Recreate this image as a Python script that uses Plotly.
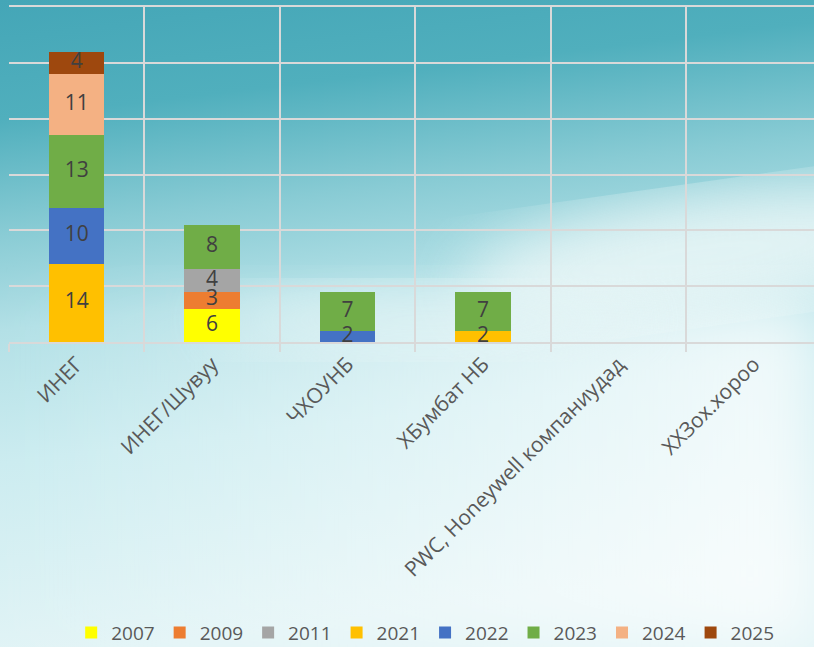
import base64
import plotly.graph_objects as go

categories = ["ИНЕГ", "ИНЕГ/Шувуу", "ЧХОУНБ", "ХБумбат НБ",
              "PWC, Honeywell компаниудад", "ХХЗох.хороо"]
years = ["2007", "2009", "2011", "2021", "2022", "2023", "2024", "2025"]
colors = ["#FFFF00", "#ED7D31", "#A5A5A5", "#FFC000",
          "#4472C4", "#70AD47", "#F4B183", "#9E480E"]

v2007 = [None, 6, None, None, None, None]
v2009 = [None, 3, None, None, None, None]
v2011 = [None, 4, None, None, None, None]
v2021 = [14, None, None, 2, None, None]
v2022 = [10, None, 2, None, None, None]
v2023 = [13, 8, 7, 7, None, None]
v2024 = [11, None, None, None, None, None]
v2025 = [4, None, None, None, None, None]
values = [v2007, v2009, v2011, v2021, v2022, v2023, v2024, v2025]

W, H = 814, 647
ml, mt, mb = 9, 7, 305

# фон: небо с облаками (svg градиент вместо картинки)
svg = f'''<svg xmlns="http://www.w3.org/2000/svg" width="{W}" height="{H}" viewBox="0 0 {W} {H}">
<defs>
<linearGradient id="g" x1="0" y1="0" x2="0.15" y2="1">
<stop offset="0" stop-color="#44a6b7"/>
<stop offset="0.18" stop-color="#50afbd"/>
<stop offset="0.35" stop-color="#88cbd4"/>
<stop offset="0.5" stop-color="#b2e0e6"/>
<stop offset="0.7" stop-color="#cbecf0"/>
<stop offset="1" stop-color="#e2f4f6"/>
</linearGradient>
<linearGradient id="w" x1="0" y1="0" x2="1" y2="0">
<stop offset="0" stop-color="#ffffff" stop-opacity="0"/>
<stop offset="1" stop-color="#ffffff" stop-opacity="0.75"/>
</linearGradient>
<filter id="b"><feGaussianBlur stdDeviation="30"/></filter>
</defs>
<rect width="{W}" height="{H}" fill="url(#g)"/>
<rect y="300" width="{W}" height="{H - 300}" fill="url(#w)" filter="url(#b)"/>
<ellipse cx="700" cy="255" rx="240" ry="60" fill="#eef8f8" opacity="0.8" filter="url(#b)" transform="rotate(-8 700 255)"/>
<ellipse cx="430" cy="320" rx="220" ry="35" fill="#e6f5f6" opacity="0.6" filter="url(#b)"/>
</svg>'''
bg = "data:image/svg+xml;base64," + base64.b64encode(svg.encode()).decode()

fig = go.Figure()
for y, c, v in zip(years, colors, values):
    fig.add_trace(go.Bar(x=categories, y=v, name=y,
                         marker=dict(color=c, line=dict(width=0))))

# подписи поверх всех столбцов (середина каждого сегмента)
lx, ly, lt = [], [], []
base = [0] * len(categories)
for v in values:
    for i, val in enumerate(v):
        if val:
            lx.append(categories[i])
            ly.append(base[i] + val / 2)
            lt.append(str(val))
            base[i] += val
fig.add_trace(go.Scatter(x=lx, y=ly, text=lt, mode="text", showlegend=False,
                         textposition="middle center",
                         textfont=dict(color="#404040", size=21),
                         cliponaxis=False, hoverinfo="skip"))

pw = W - ml
ph = H - mt - mb
fig.add_layout_image(dict(
    source=bg, xref="paper", yref="paper",
    x=-ml / pw, y=1 + mt / ph, sizex=W / pw, sizey=H / ph,
    sizing="stretch", xanchor="left", yanchor="top", layer="below",
))

grid = "#d9d9d9"
fig.update_layout(
    width=W, height=H, barmode="stack", bargap=0.59,
    margin=dict(l=ml, r=0, t=mt, b=mb),
    paper_bgcolor="#cfecef", plot_bgcolor="rgba(0,0,0,0)",
    font=dict(family="Open Sans, sans-serif", size=21, color="#595959"),
    showlegend=True,
    legend=dict(orientation="h", x=0.517, xanchor="center",
                yref="container", y=0.022, yanchor="middle",
                itemwidth=30, font=dict(size=19, color="#595959"),
                traceorder="normal", bgcolor="rgba(0,0,0,0)"),
    xaxis=dict(type="category", tickson="boundaries", ticks="outside",
               ticklen=8, tickcolor=grid, tickwidth=1.5,
               showgrid=True, gridcolor=grid, gridwidth=1.5,
               showline=True, linecolor=grid, linewidth=1.5, mirror=True,
               tickangle=-45, range=[-0.5, -0.5 + pw / 135.4]),
    yaxis=dict(range=[0, 60], dtick=10, showticklabels=False,
               gridcolor=grid, gridwidth=1.5, zeroline=False),
)

fig.write_html("out.html", config={"displayModeBar": False},
               post_script="document.body.style.margin='0';")
